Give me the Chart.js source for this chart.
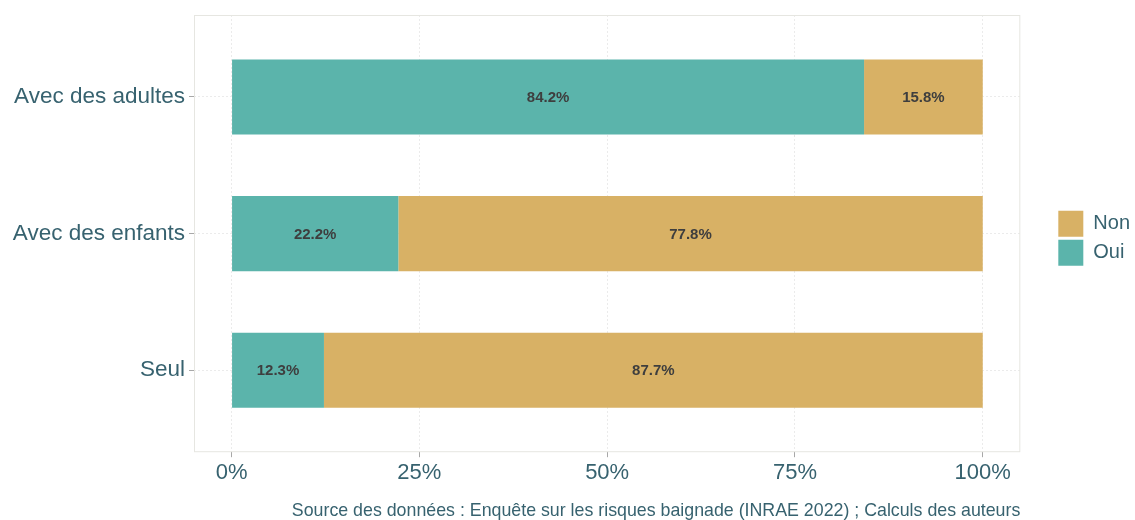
<!DOCTYPE html>
<html>
<head>
<meta charset="utf-8">
<script src="https://cdn.jsdelivr.net/npm/chart.js@4/dist/chart.umd.min.js"></script>
<style>
html,body{margin:0;padding:0;background:#fff;}
#wrap{width:1135px;height:520px;position:relative;}
</style>
</head>
<body>
<div id="wrap"><canvas id="c" width="1135" height="520"></canvas></div>
<script>
// Categories from bottom (1) to top (3)
const categories = ["Seul", "Avec des enfants", "Avec des adultes"];
const categoryPositions = [1, 2, 3];
const ouiValues = [12.3, 22.2, 84.2];
const nonValues = [87.7, 77.8, 15.8];
const xTickValues = [0, 25, 50, 75, 100];
const caption = "Source des données : Enquête sur les risques baignade (INRAE 2022) ; Calculs des auteurs";

const TEXT = "#37626f";
const FONT = "'Liberation Sans', Arial, sans-serif";

const panelBorder = {
  id: 'panelBorder',
  beforeDatasetsDraw(chart) {
    const {ctx, chartArea: a} = chart;
    ctx.save();
    ctx.strokeStyle = '#e6e6e1';
    ctx.lineWidth = 1;
    ctx.strokeRect(a.left + 0.5, a.top + 0.5, a.right - a.left - 1, a.bottom - a.top - 1);
    ctx.restore();
  }
};

const barLabels = {
  id: 'barLabels',
  afterDatasetsDraw(chart) {
    const {ctx} = chart;
    ctx.save();
    ctx.font = "bold 15px " + FONT;
    ctx.fillStyle = '#3e3e3e';
    ctx.textAlign = 'center';
    ctx.textBaseline = 'middle';
    chart.data.datasets.forEach((ds, di) => {
      const meta = chart.getDatasetMeta(di);
      meta.data.forEach((el, i) => {
        const v = ds.data[i].x;
        const cx = (el.x + el.base) / 2;
        ctx.fillText(v.toFixed(1) + '%', cx, el.y + 1);
      });
    });
    ctx.restore();
  }
};

const gridOpts = {
  color: '#ebebeb',
  tickColor: '#a8a8a8',
  tickBorderDash: [],
  tickLength: 5,
  lineWidth: 1,
  offset: false
};

new Chart(document.getElementById('c'), {
  type: 'bar',
  data: {
    datasets: [
      {
        label: 'Oui',
        data: categoryPositions.map((p, i) => ({x: ouiValues[i], y: p})),
        backgroundColor: '#5bb4ab',
        borderWidth: 0
      },
      {
        label: 'Non',
        data: categoryPositions.map((p, i) => ({x: nonValues[i], y: p})),
        backgroundColor: '#d8b165',
        borderWidth: 0
      }
    ]
  },
  options: {
    indexAxis: 'y',
    responsive: false,
    animation: false,
    barPercentage: 0.55,
    categoryPercentage: 1,
    layout: {padding: {top: 15, left: 0, right: -5, bottom: 0}},
    scales: {
      x: {
        type: 'linear',
        stacked: true,
        min: -5,
        max: 105,
        offset: false,
        afterBuildTicks: s => { s.ticks = xTickValues.map(v => ({value: v})); },
        afterFit: s => { s.height = 50; s.paddingLeft = 0; s.paddingRight = 0; },
        border: {display: false, dash: [2, 2]},
        grid: gridOpts,
        ticks: {
          callback: v => v + '%',
          color: TEXT,
          font: {family: FONT, size: 22},
          padding: 3,
          maxRotation: 0
        }
      },
      y: {
        type: 'linear',
        stacked: true,
        min: 0.4,
        max: 3.6,
        offset: false,
        afterBuildTicks: s => { s.ticks = categoryPositions.map(v => ({value: v})); },
        afterFit: s => { s.width = 194; s.paddingTop = 0; s.paddingBottom = 0; },
        border: {display: false, dash: [2, 2]},
        grid: gridOpts,
        ticks: {
          callback: v => categories[categoryPositions.indexOf(v)],
          color: TEXT,
          font: {family: FONT, size: 22.5},
          padding: 4
        }
      },
      gap: {
        type: 'linear',
        position: 'right',
        display: true,
        grid: {display: false, drawTicks: false},
        border: {display: false},
        ticks: {display: false},
        afterFit: s => { s.width = 35; s.paddingTop = 0; s.paddingBottom = 0; }
      }
    },
    plugins: {
      legend: {
        position: 'right',
        reverse: true,
        fullSize: false,
        title: {display: true, text: ' ', font: {size: 1}, padding: 4},
        labels: {
          boxWidth: 25,
          boxHeight: 26,
          padding: 3,
          color: TEXT,
          font: {family: FONT, size: 20}
        }
      },
      title: {
        display: true,
        text: caption,
        position: 'bottom',
        align: 'end',
        fullSize: false,
        color: TEXT,
        font: {family: FONT, size: 17.8, weight: 'normal', lineHeight: 1},
        padding: 0
      },
      tooltip: {enabled: false}
    }
  },
  plugins: [panelBorder, barLabels]
});
</script>
</body>
</html>
